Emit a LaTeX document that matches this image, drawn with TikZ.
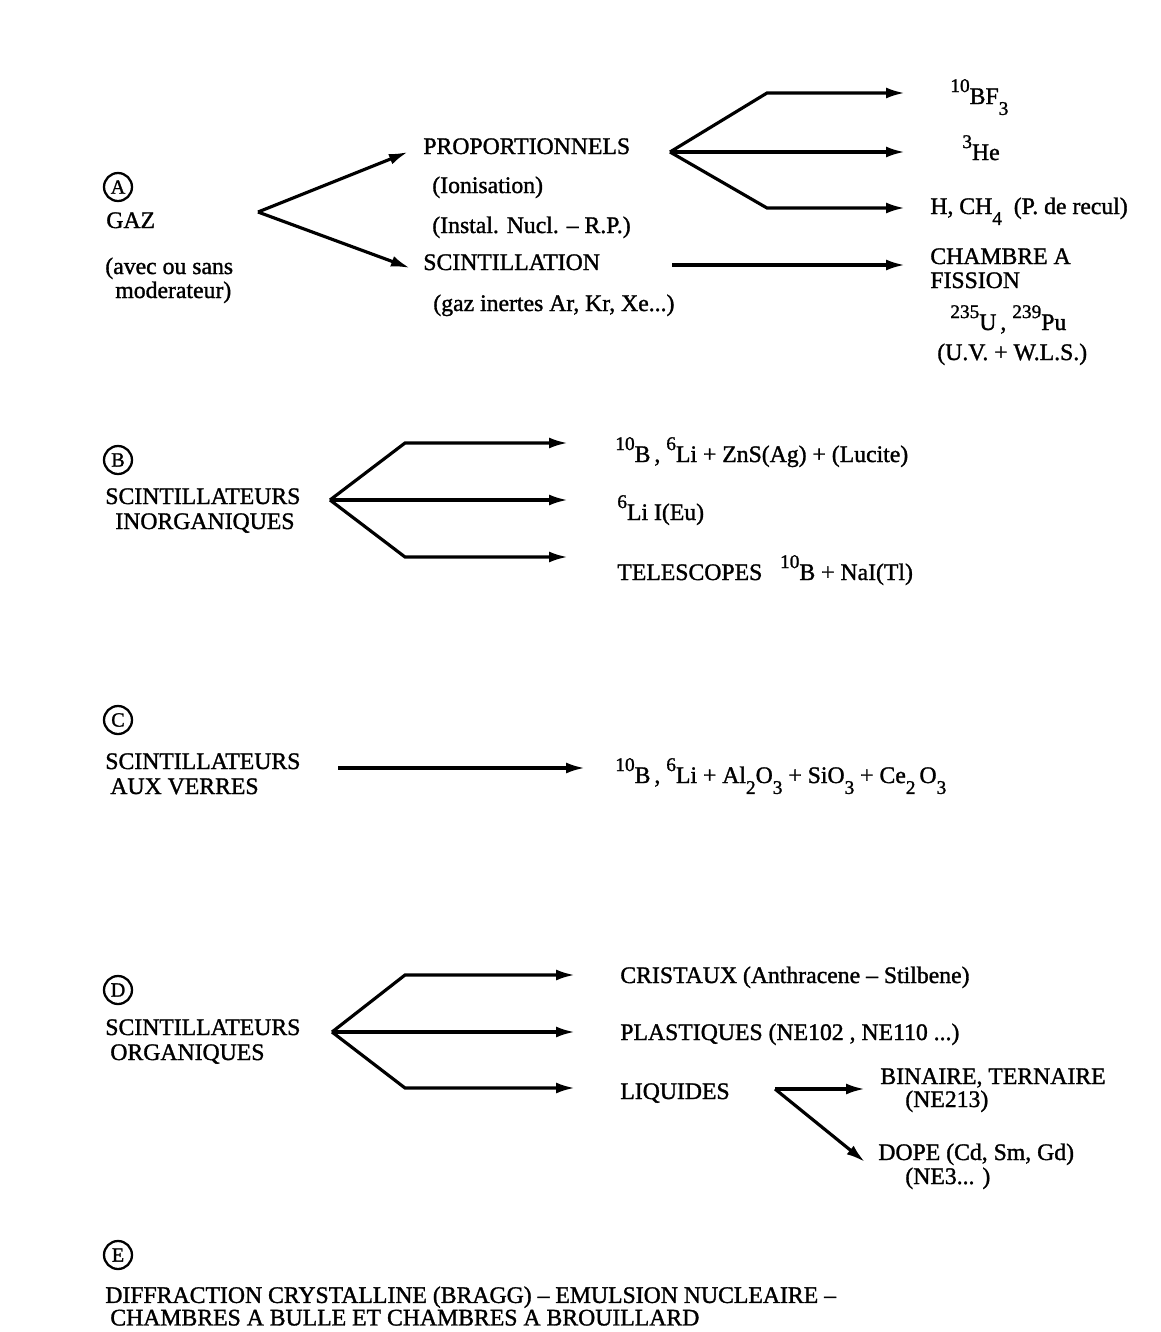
\documentclass[tikz,border=0pt]{standalone}
\usepackage{fontspec}
\setmainfont{Liberation Serif}[BoldFont={Liberation Serif},BoldFeatures={FakeBold=1.3}]
\usepackage{tikz}
\usetikzlibrary{arrows.meta}

\newcommand{\up}[1]{\raisebox{1.1ex}{\fontsize{11}{11}\selectfont #1}}
\newcommand{\dn}[1]{\raisebox{-1.0ex}{\fontsize{11}{11}\selectfont #1}}

\begin{document}
\begin{tikzpicture}[x=0.02cm,y=-0.02cm]
  \tikzset{lettre/.style = {shape=circle,draw,line width=1.3pt,minimum size=0.56cm,inner sep=0pt,font=\bfseries\fontsize{11.5}{12}\selectfont}}
  \tikzset{texte/.style = {anchor=base west,inner sep=0pt,font=\bfseries\fontsize{13.5}{16}\selectfont}}
  \tikzset{fleche/.style = {-{Latex[length=0.38cm,width=0.22cm]},line width=1.8pt}}

  \useasboundingbox (0,0) rectangle (1160,1332);

  % A : gaz
	\node[lettre] (A) at (118,187) {A};
	\node[texte] (gaz) at (106,228) {GAZ};
	\node[texte] (avec) at (105,274) {(avec ou sans};
	\node[texte] (moder) at (115,298) {moderateur)};
	\node[texte] (prop) at (423,154) {PROPORTIONNELS};
	\node[texte] (ionis) at (432,193) {(Ionisation)};
	\node[texte] (instal) at (432,233) {(Instal. Nucl. -- R.P.)};
	\node[texte] (scint) at (423,270) {SCINTILLATION};
	\node[texte] (inert) at (433,311) {(gaz inertes Ar, Kr, Xe...)};
	\node[texte] (bf) at (950,104) {\up{10}BF\dn{3}};
	\node[texte] (he) at (962,160) {\up{3}He};
	\node[texte] (hch) at (930,214) {H, CH\dn{4}\ \ (P. de recul)};
	\node[texte] (chamb) at (930,264) {CHAMBRE A};
	\node[texte] (fiss) at (930,288) {FISSION};
	\node[texte] (upu) at (950,330) {\up{235}U\,, \up{239}Pu};
	\node[texte] (uvw) at (937,360) {(U.V. + W.L.S.)};

	\coordinate (gA) at (258,212);
	\coordinate (eP) at (408,152);
	\coordinate (eS) at (410,268);
	\coordinate (pP) at (670,152);
	\coordinate (kP1) at (767,93);
	\coordinate (kP3) at (767,208);
	\coordinate (eP1) at (905,93);
	\coordinate (eP2) at (905,152);
	\coordinate (eP3) at (905,208);
	\coordinate (pS) at (672,265);
	\coordinate (eS1) at (905,265);

  % B : inorganiques
	\node[lettre] (B) at (118,460) {B};
	\node[texte] (scB) at (105,504) {SCINTILLATEURS};
	\node[texte] (inorg) at (115,529) {INORGANIQUES};
	\node[texte] (bli) at (615,462) {\up{10}B\,, \up{6}Li + ZnS(Ag) + (Lucite)};
	\node[texte] (lii) at (617,520) {\up{6}Li I(Eu)};
	\node[texte] (tele) at (617,580) {TELESCOPES\ \ \ \up{10}B + NaI(Tl)};

	\coordinate (pB) at (330,500);
	\coordinate (kB1) at (405,443);
	\coordinate (kB3) at (405,557);
	\coordinate (eB1) at (568,443);
	\coordinate (eB2) at (568,500);
	\coordinate (eB3) at (568,557);

  % C : verres
	\node[lettre] (C) at (118,720) {C};
	\node[texte] (scC) at (105,769) {SCINTILLATEURS};
	\node[texte] (verres) at (110,794) {AUX VERRES};
	\node[texte] (verform) at (615,783) {\up{10}B\,, \up{6}Li + Al\dn{2}O\dn{3} + SiO\dn{3} + Ce\dn{2}\,O\dn{3}};

	\coordinate (pC) at (338,768);
	\coordinate (eC) at (585,768);

  % D : organiques
	\node[lettre] (D) at (118,990) {D};
	\node[texte] (scD) at (105,1035) {SCINTILLATEURS};
	\node[texte] (organ) at (110,1060) {ORGANIQUES};
	\node[texte] (crist) at (620,983) {CRISTAUX (Anthracene -- Stilbene)};
	\node[texte] (plast) at (620,1040) {PLASTIQUES (NE102 , NE110 ...)};
	\node[texte] (liq) at (620,1099) {LIQUIDES};
	\node[texte] (bin) at (880,1084) {BINAIRE, TERNAIRE};
	\node[texte] (ne213) at (905,1107) {(NE213)};
	\node[texte] (dope) at (878,1160) {DOPE (Cd, Sm, Gd)};
	\node[texte] (ne3) at (905,1184) {(NE3... )};

	\coordinate (pD) at (332,1032);
	\coordinate (kD1) at (405,975);
	\coordinate (kD3) at (405,1088);
	\coordinate (eD1) at (575,975);
	\coordinate (eD2) at (575,1032);
	\coordinate (eD3) at (575,1088);
	\coordinate (pL) at (775,1089);
	\coordinate (eL1) at (865,1089);
	\coordinate (eL2) at (865,1162);

  % E : autres
	\node[lettre] (E) at (118,1255) {E};
	\node[texte,anchor=south west,align=left,font=\bfseries\fontsize{13.5}{11.3}\selectfont] (diffr) at (105,1326)
	  {DIFFRACTION CRYSTALLINE (BRAGG) -- EMULSION NUCLEAIRE --\\\hspace*{0.1cm}CHAMBRES A BULLE ET CHAMBRES A BROUILLARD};

       \foreach \from/\to in {gA/eP, gA/eS, pP/eP2, pS/eS1, pB/eB2, pC/eC, pD/eD2, pL/eL1, pL/eL2}
    \draw[fleche] (\from) -- (\to);
       \foreach \from/\via/\to in {pP/kP1/eP1, pP/kP3/eP3, pB/kB1/eB1, pB/kB3/eB3, pD/kD1/eD1, pD/kD3/eD3}
    \draw[fleche] (\from) -- (\via) -- (\to);
\end{tikzpicture}
\end{document}
